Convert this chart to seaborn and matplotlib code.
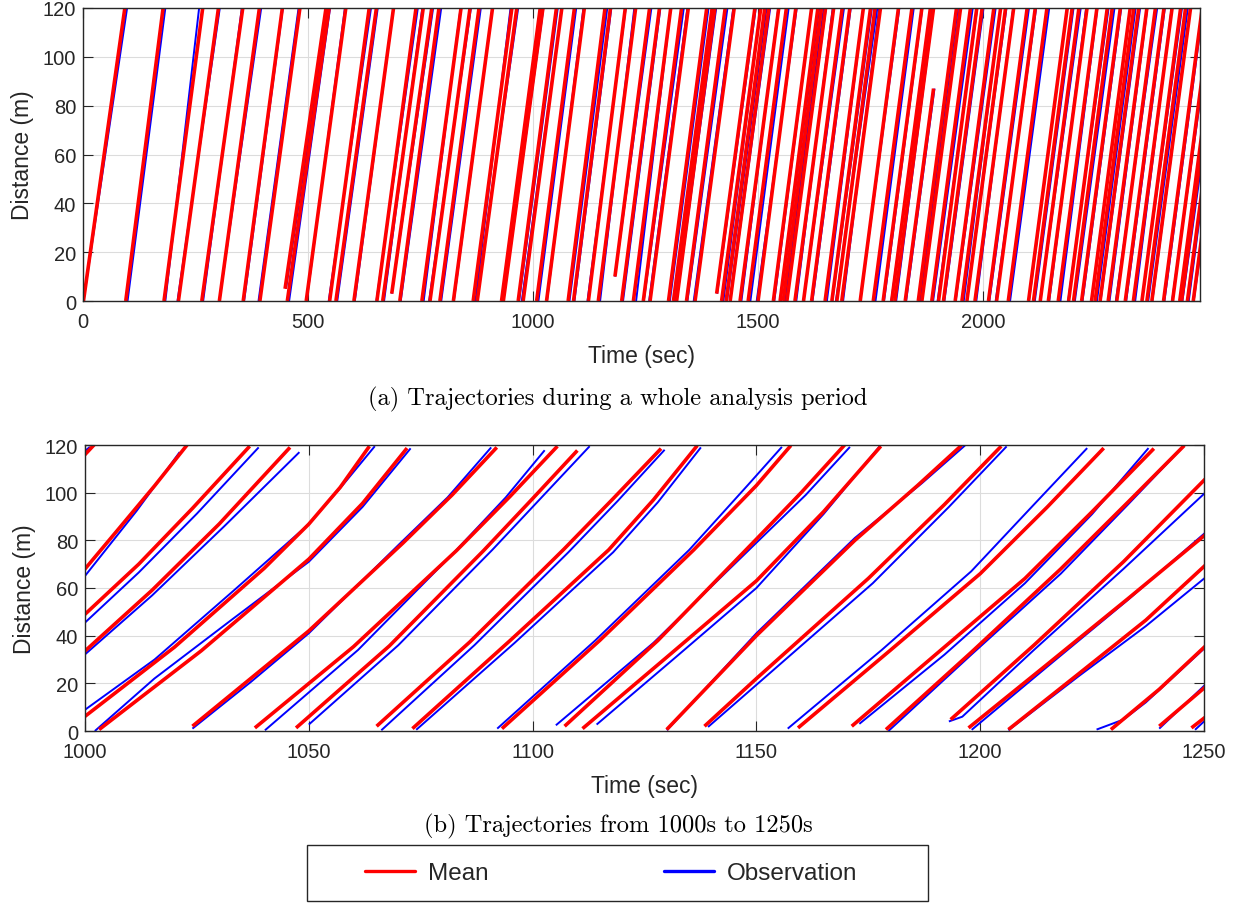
import matplotlib
matplotlib.use("Agg")
import matplotlib.pyplot as plt
import seaborn as sns
import pandas as pd
from matplotlib.lines import Line2D
from matplotlib.patches import Rectangle

# ---------------- data: (a) whole analysis period ----------------
top_mean_start = [1, 95, 180, 212, 264, 303, 356, 393, 449, 454, 496, 548, 562,
                  602, 653, 666, 686, 704, 753, 771, 793, 823, 867, 876, 930, 934,
                  967, 978, 1008, 1030, 1078, 1090, 1123, 1145, 1182, 1197, 1223, 1245, 1260,
                  1301, 1312, 1319, 1341, 1360, 1408, 1419, 1429, 1438, 1460, 1478, 1500, 1534,
                  1549, 1556, 1564, 1582, 1601, 1619, 1649, 1664, 1675, 1686, 1727, 1756, 1778,
                  1797, 1804, 1827, 1856, 1864, 1886, 1901, 1912, 1938, 1953, 1964, 1982, 2012,
                  2030, 2056, 2101, 2112, 2127, 2145, 2167, 2190, 2201, 2219, 2241, 2249, 2260,
                  2278, 2297, 2316, 2334, 2353, 2364, 2375, 2401, 2421, 2437, 2441, 2454, 2467]
top_mean_end = [93, 178, 266, 301, 355, 392, 443, 482, 540, 547, 584, 636, 652,
                690, 740, 756, 775, 791, 840, 860, 880, 910, 953, 964, 1016, 1022,
                1052, 1064, 1092, 1114, 1160, 1172, 1205, 1228, 1259, 1281, 1306, 1330, 1345,
                1386, 1398, 1404, 1427, 1447, 1493, 1506, 1515, 1524, 1546, 1563, 1584, 1619,
                1633, 1641, 1650, 1668, 1687, 1704, 1734, 1750, 1760, 1772, 1812, 1842, 1864,
                1883, 1890, 1890, 1941, 1950, 1972, 1986, 1998, 2024, 2039, 2050, 2068, 2098,
                2116, 2142, 2187, 2198, 2213, 2231, 2253, 2276, 2287, 2305, 2327, 2335, 2346,
                2364, 2383, 2402, 2420, 2439, 2450, 2461, 2487, 2507, 2523, 2527, 2540, 2553]
# trajectories that enter / leave the section away from its ends
top_late_entry_idx = [8, 16, 34, 44]
top_late_entry_dist = [5, 3, 10, 3]
top_early_exit_idx = [67]
top_early_exit_dist = [87]
# observation offsets (s) relative to the mean trajectory, at entry and exit
top_obs_start_shift = [0, 4, 3, -2, 3, 0, 2, -3, 2, 4, 1, -2, 3,
                       2, -1, 3, 0, 2, 4, -2, 3, 1, 5, -2, 3, 0,
                       2, -3, 4, 1, 3, 2, -2, 4, 0, 3, 6, 1, -2,
                       3, 4, 0, 2, -3, 1, 4, 2, 0, 3, 5, -3, 2,
                       1, 4, -2, 3, 0, 2, 4, 1, -2, 3, 0, 5, 2,
                       -1, 3, 2, 4, 0, 3, -2, 2, 1, 4, 0, 3, 2,
                       -2, 4, 1, 3, 0, 2, 5, -1, 3, 2, 0, 4, 1,
                       3, -2, 2, 4, 0, 3, 1, 2, -1, 4, 2, 3, 1]
top_obs_end_shift = [5, 5, -8, 3, -2, 4, 1, -3, 5, 2, -2, 4, 3,
                     0, 4, -2, 3, 5, -1, 2, 4, 0, -3, 3, 5, 1,
                     3, 0, 4, -2, 5, 2, 1, -3, 4, 2, 0, 5, -2,
                     4, 1, 3, 5, -2, 2, 0, 4, 3, -1, 5, 2, 0,
                     3, 5, 1, -2, 4, 2, 0, 3, 5, -3, 2, 4, 1,
                     4, 0, 2, 3, -2, 5, 1, 3, 4, 0, 2, -1, 4,
                     2, 5, 0, 3, 4, -2, 1, 3, 5, 2, 0, 4, 3,
                     1, 4, 2, -1, 3, 5, 0, 2, 4, 3, 6, 2, 5]

# ---------------- data: (b) 1000 s to 1250 s ----------------
bottom_mean_time = [
    [998.5, 1002],
    [997, 999.55, 1007.6, 1015.6, 1022.8],
    [996, 999.55, 1012, 1024, 1036.8],
    [996, 999.55, 1015, 1030, 1045.8],
    [996, 999.55, 1020, 1040, 1050, 1057, 1063.55],
    [1003.15, 1026, 1050, 1062, 1071.95],
    [1024, 1037, 1050, 1071, 1082, 1092],
    [1037.95, 1060, 1083, 1095, 1105.55],
    [1047.15, 1068, 1089, 1100, 1110],
    [1065.15, 1086, 1107, 1118, 1128.7],
    [1073.15, 1095, 1117, 1127, 1136.8],
    [1093.15, 1115, 1136, 1150, 1157.7],
    [1107.15, 1128, 1150, 1160, 1169.7],
    [1111.15, 1130, 1150, 1165, 1177.8],
    [1129.95, 1150, 1172, 1186, 1195.8],
    [1138.4, 1150, 1175, 1192, 1204.7],
    [1159.3, 1180, 1200, 1215, 1227.6],
    [1171.3, 1190, 1210, 1225, 1238.8],
    [1178.95, 1198, 1218, 1233, 1245.6],
    [1193.4, 1212, 1232, 1252],
    [1197.4, 1215, 1233, 1252],
    [1206.3, 1222, 1237, 1252],
    [1229.2, 1240, 1252],
    [1240, 1252],
    [1247.2, 1252],
]
bottom_mean_dist = [
    [113, 120],
    [61, 67, 85, 103, 120],
    [42, 48.2, 70, 93.4, 119.5],
    [27, 32.8, 59.1, 86.9, 119],
    [0, 5.5, 35.2, 68.2, 86.8, 102.2, 119.5],
    [0.6, 33.7, 72.1, 95.5, 118.7],
    [2, 22, 42, 78.8, 99, 119],
    [1.3, 35.4, 75.7, 98.5, 119.5],
    [1.3, 35.7, 75.6, 97.5, 117.7],
    [2, 37.4, 76.3, 97.5, 118.5],
    [1, 38, 76, 97, 119.8],
    [1, 38, 76, 103, 119.8],
    [2, 38, 80.5, 100, 120],
    [1, 31, 63, 92, 119.5],
    [0.6, 40, 80, 103, 119.8],
    [2, 22, 64, 95, 119.5],
    [1.3, 34, 66, 94, 118.7],
    [2, 32, 64, 92, 118.5],
    [0.6, 33, 68, 96, 119.8],
    [4.8, 36, 71, 109],
    [1.3, 28, 55.5, 85],
    [0.6, 24, 46.5, 72.5],
    [0.6, 17.5, 38.6],
    [2, 21.2],
    [1.3, 8.3],
]
bottom_obs_time = [
    [999, 1001.1],
    [997, 999.55, 1011.55, 1021.15],
    [996, 999.55, 1012, 1025, 1038.8],
    [996, 999.55, 1015, 1031, 1047.9],
    [996, 999.55, 1015.55, 1033.15, 1050, 1057.5, 1064.75],
    [1002.2, 1015.5, 1033, 1050, 1062, 1072.75],
    [1024, 1037, 1050, 1070, 1081, 1090.75],
    [1040.2, 1061, 1082, 1094, 1102.7],
    [1050, 1070, 1091, 1102, 1112.75],
    [1066.2, 1087, 1108, 1119, 1129.5],
    [1074, 1096, 1118, 1128, 1137.6],
    [1092.1, 1114, 1135, 1148, 1155.7],
    [1105.2, 1127, 1150, 1161, 1170.9],
    [1114.3, 1132, 1150, 1165, 1177.7],
    [1130, 1150, 1172, 1187, 1196.6],
    [1139.2, 1151, 1176, 1193, 1205.9],
    [1157, 1178, 1198, 1212, 1223.9],
    [1173, 1192, 1210, 1225, 1237.6],
    [1179.5, 1198, 1218, 1233, 1245.6],
    [1193, 1196, 1212, 1232, 1252],
    [1198.1, 1215, 1233, 1252],
    [1206.3, 1222, 1237, 1252],
    [1226, 1229, 1232, 1237, 1252],
    [1240, 1252],
    [1248, 1252],
]
bottom_obs_dist = [
    [116, 119.2],
    [58, 64, 92.4, 117],
    [38.5, 44.7, 66.5, 91.2, 119],
    [25.6, 31.4, 56.9, 85.7, 117],
    [3, 8.3, 30, 58.8, 86.8, 103, 119.5],
    [0, 22, 47, 71, 94, 118.6],
    [1, 20.5, 41, 78, 98, 119],
    [0.3, 34, 74, 98, 117.8],
    [2.7, 36, 76, 98, 119.5],
    [0.3, 36, 75, 96.5, 118],
    [0.5, 37, 75, 96, 119],
    [1, 38, 76, 103, 119.2],
    [2.4, 37, 79, 99, 119.2],
    [2.7, 31, 60, 91, 119.8],
    [0.3, 41, 81, 104, 119.8],
    [1.7, 21, 62, 94, 119.4],
    [1, 34, 67, 95, 118.7],
    [3, 32, 62, 91, 118.7],
    [0, 32, 66, 95, 119.8],
    [4, 6, 34, 68, 103],
    [0.5, 27, 55, 86],
    [0.3, 23, 44, 67],
    [0.6, 2.7, 4.8, 12, 38],
    [1, 22.5],
    [0.5, 7.5],
]

series_names = ["Mean", "Observation"]
series_colors = ["#ff0000", "#0000ff"]
y_ticks = [0, 20, 40, 60, 80, 100, 120]
top_x_ticks = [0, 500, 1000, 1500, 2000]
bottom_x_ticks = [1000, 1050, 1100, 1150, 1200, 1250]

# ---------------- build long tables ----------------
rows = []
for i, (t0, t1) in enumerate(zip(top_mean_start, top_mean_end)):
    d0 = top_late_entry_dist[top_late_entry_idx.index(i)] if i in top_late_entry_idx else 0
    d1 = top_early_exit_dist[top_early_exit_idx.index(i)] if i in top_early_exit_idx else 120
    rows.append(("Mean", f"m{i}", t0, d0))
    rows.append(("Mean", f"m{i}", t1, d1))
    rows.append(("Observation", f"o{i}", t0 + top_obs_start_shift[i], d0))
    rows.append(("Observation", f"o{i}", t1 + top_obs_end_shift[i], d1))
df_top = pd.DataFrame(rows, columns=["series", "traj", "time", "distance"])

rows = []
for i, (ts, ds) in enumerate(zip(bottom_mean_time, bottom_mean_dist)):
    for t, d in zip(ts, ds):
        rows.append(("Mean", f"m{i}", t, d))
for i, (ts, ds) in enumerate(zip(bottom_obs_time, bottom_obs_dist)):
    for t, d in zip(ts, ds):
        rows.append(("Observation", f"o{i}", t, d))
df_bot = pd.DataFrame(rows, columns=["series", "traj", "time", "distance"])

# ---------------- style ----------------
sns.set_style("ticks")
plt.rcParams["font.family"] = ["Liberation Sans", "DejaVu Sans"]
TXT = "#262626"

palette = dict(zip(series_names, series_colors))
sizes = {"Mean": 2.6, "Observation": 1.4}

fig = plt.figure(figsize=(12.47, 9.04), dpi=100)
ax1 = fig.add_axes([83 / 1247, 1 - 302 / 904, (1200 - 83) / 1247, (302 - 9) / 904])
ax2 = fig.add_axes([85 / 1247, 1 - 732 / 904, (1204 - 85) / 1247, (732 - 446) / 904])


def draw(ax, df, xlim, xticks):
    sns.lineplot(data=df, x="time", y="distance", hue="series", size="series",
                 units="traj", estimator=None, sort=False,
                 hue_order=["Observation", "Mean"], size_order=["Observation", "Mean"],
                 palette=palette, sizes=sizes, legend=False, ax=ax)
    for ln in ax.get_lines():
        ln.set_solid_capstyle("butt")
        ln.set_solid_joinstyle("round")
    ax.set_xlim(*xlim)
    ax.set_ylim(0, 120)
    ax.set_xticks(xticks)
    ax.set_yticks(y_ticks)
    ax.grid(True, color="#dcdcdc", linewidth=0.8)
    ax.set_axisbelow(True)
    ax.tick_params(axis="both", direction="in", length=7, width=0.8, top=True,
                   right=True, labelsize=14.5, color=TXT, labelcolor=TXT)
    ax.tick_params(axis="x", pad=8)
    ax.tick_params(axis="y", pad=5)
    for sp in ax.spines.values():
        sp.set_visible(True)
        sp.set_color(TXT)
        sp.set_linewidth(1.0)
    ax.set_xlabel("Time (sec)", fontsize=16.5, color=TXT, labelpad=9)
    ax.set_ylabel("Distance (m)", fontsize=16.5, color=TXT, labelpad=6)


draw(ax1, df_top, (0, 2482), top_x_ticks)
draw(ax2, df_bot, (1000, 1250), bottom_x_ticks)

fig.text(618 / 1247, 1 - 399 / 904, "(a) Trajectories during a whole analysis period",
         ha="center", va="center", fontsize=17.6, family="cmr10", color="black")
fig.text(618 / 1247, 1 - 826 / 904, "(b) Trajectories from 1000s to 1250s",
         ha="center", va="center", fontsize=17.6, family="cmr10", color="black")

handles = [Line2D([], [], color=c, lw=2.4) for c in series_colors]
fig.legend(handles, series_names, loc="center", bbox_to_anchor=(611.5 / 1247, 1 - 874 / 904),
           ncol=2, frameon=False, fontsize=17.5, handlelength=2.05, handletextpad=0.55,
           columnspacing=7.2, borderpad=0.2)
fig.add_artist(Rectangle((307 / 1247, 1 - 902 / 904), 621 / 1247, 56 / 904,
                         transform=fig.transFigure, fill=False, edgecolor=TXT, linewidth=1.0))

fig.savefig("out.png", dpi=100)
